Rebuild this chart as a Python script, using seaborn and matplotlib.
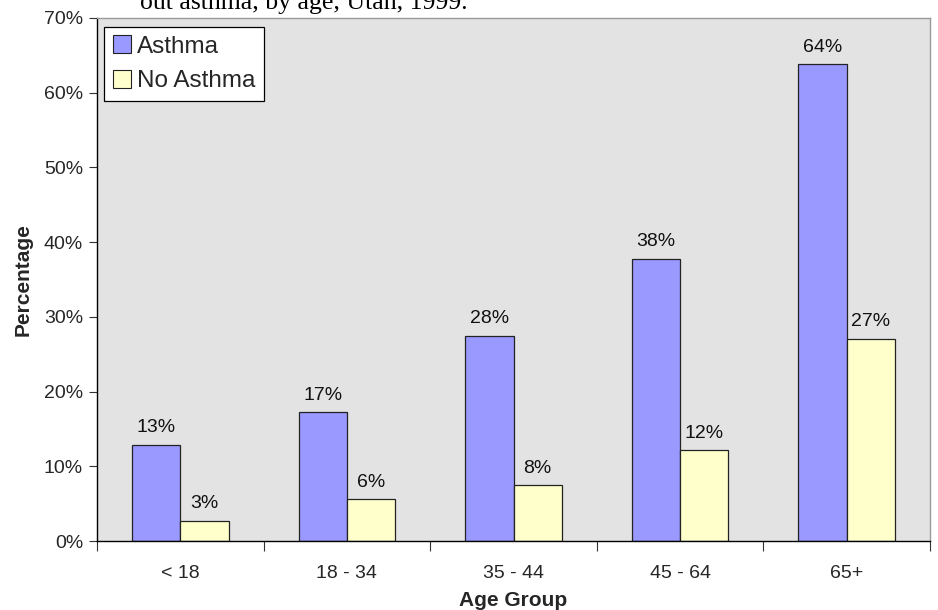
import matplotlib
matplotlib.use("Agg")
import matplotlib.pyplot as plt
from matplotlib.ticker import FixedLocator, PercentFormatter
import seaborn as sns
import pandas as pd

age_groups = ["< 18", "18 - 34", "35 - 44", "45 - 64", "65+"]
asthma = [12.9, 17.2, 27.5, 37.8, 63.8]
no_asthma = [2.7, 5.6, 7.5, 12.2, 27.1]
series_names = ["Asthma", "No Asthma"]
palette = ["#9999FF", "#FFFFCC"]

df = pd.DataFrame({
    "Age Group": age_groups * 2,
    "Percentage": asthma + no_asthma,
    "Status": [series_names[0]] * len(age_groups) + [series_names[1]] * len(age_groups),
})

sns.set_theme(style="white")
plt.rcParams["font.family"] = ["Liberation Sans", "DejaVu Sans"]

fig = plt.figure(figsize=(9.38, 6.10), dpi=100)
ax = fig.add_axes([97 / 938, 1 - 541 / 610, (930 - 97) / 938, (541 - 18) / 610])
ax.set_facecolor("#E3E3E3")

sns.barplot(data=df, x="Age Group", y="Percentage", hue="Status",
            order=age_groups, hue_order=series_names, palette=palette,
            width=0.58, edgecolor="#222222", linewidth=0.9, saturation=1,
            ax=ax)

for container in ax.containers:
    ax.bar_label(container, labels=[f"{v:.0f}%" for v in container.datavalues],
                 padding=6, fontsize=14, color="#111111")

ax.set_ylim(0, 70)
ax.set_xlim(-0.5, len(age_groups) - 0.5)
ax.yaxis.set_major_locator(FixedLocator(range(0, 71, 10)))
ax.yaxis.set_major_formatter(PercentFormatter(decimals=0))
ax.tick_params(axis="y", which="major", left=True, length=6, width=0.8,
               color="#333333", labelsize=14, pad=4)
ax.tick_params(axis="x", which="major", bottom=False, labelsize=14, pad=11)
ax.xaxis.set_minor_locator(FixedLocator([i - 0.5 for i in range(len(age_groups) + 1)]))
ax.tick_params(axis="x", which="minor", bottom=True, length=7, width=0.8,
               color="#333333")

ax.set_xlabel("Age Group", fontsize=15, fontweight="bold", labelpad=7)
ax.set_ylabel("Percentage", fontsize=15, fontweight="bold", labelpad=8)

for side in ["left", "bottom"]:
    ax.spines[side].set_color("#000000")
    ax.spines[side].set_linewidth(1.0)
for side in ["top", "right"]:
    ax.spines[side].set_color("#9A9A9A")
    ax.spines[side].set_linewidth(1.0)

leg = ax.legend(loc="upper left", bbox_to_anchor=(0.009, 0.983), fontsize=17.5,
                frameon=True, fancybox=False, framealpha=1, edgecolor="#000000",
                handlelength=0.75, handleheight=0.75, handletextpad=0.25,
                borderpad=0.35, labelspacing=0.5, borderaxespad=0)
leg.get_frame().set_linewidth(0.9)
for h in leg.legend_handles:
    h.set_edgecolor("#222222")
    h.set_linewidth(0.8)

fig.text(140 / 938, 1 - 9 / 610, "out asthma, by age, Utah, 1999.",
         fontsize=18.5, family=["Liberation Serif", "DejaVu Serif"],
         va="baseline", ha="left", color="#000000")

fig.savefig("out.png", dpi=100, facecolor="white")
